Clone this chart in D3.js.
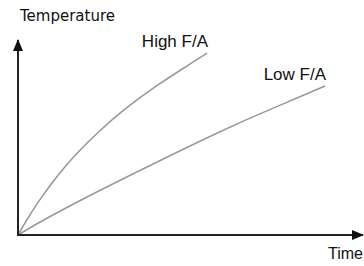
<!DOCTYPE html>
<html><head><meta charset="utf-8">
<script src="https://cdn.jsdelivr.net/npm/d3@7"></script>
<style>html,body{margin:0;padding:0;background:#fff;}</style>
</head><body>
<script>
// Data (arbitrary units: time 0-100, temperature 0-100)
const highTime = [0, 3.5, 7.2, 12.2, 17.1, 22.9, 30.4, 40.3, 49.9, 54.8];
const highTemp = [0, 10.8, 20.5, 32.3, 42.1, 52.3, 64.1, 76.9, 87.7, 93.3];
const lowTime = [0, 7.2, 23.8, 43.2, 62.3, 81.7, 89];
const lowTemp = [0, 7.7, 23.1, 40, 56.4, 70.8, 76.4];
const seriesLabels = ["High F/A", "Low F/A"];
const axisLabels = ["Temperature", "Time"];

const W = 364, H = 266;
const svg = d3.select("body").append("svg").attr("width", W).attr("height", H);
const x = d3.scaleLinear().domain([0, 100]).range([18, 363]);
const y = d3.scaleLinear().domain([0, 100]).range([235, 40]);

const defs = svg.append("defs");
defs.append("marker").attr("id","arr").attr("viewBox","0 0 12 10").attr("refX",11).attr("refY",5)
  .attr("markerWidth",6).attr("markerHeight",5).attr("orient","auto-start-reverse").attr("markerUnits","strokeWidth")
  .append("path").attr("d","M0,0L12,5L0,10z").attr("fill","#111");

const line = d3.line().x(d => x(d[0])).y(d => y(d[1])).curve(d3.curveBasis);
const hi = highTime.map((t,i)=>[t, highTemp[i]]);
const lo = lowTime.map((t,i)=>[t, lowTemp[i]]);
[hi, lo].forEach(s => svg.append("path").datum(s).attr("d", line)
  .attr("fill","none").attr("stroke","#999").attr("stroke-width",1.6));

// axes
svg.append("line").attr("x1", x(0)).attr("y1", y(0)+1).attr("x2", x(0)).attr("y2", y(100))
  .attr("stroke","#222").attr("stroke-width",2).attr("marker-end","url(#arr)");
svg.append("line").attr("x1", x(0)-1).attr("y1", y(0)).attr("x2", x(100)).attr("y2", y(0))
  .attr("stroke","#222").attr("stroke-width",2).attr("marker-end","url(#arr)");

svg.append("text").attr("x", 20).attr("y", 21).text(axisLabels[0])
  .attr("font-family","DejaVu Sans").attr("font-size",15).attr("fill","#111");
svg.append("text").attr("x", 363).attr("y", 259).attr("text-anchor","end").text(axisLabels[1])
  .attr("font-family","Liberation Sans").attr("font-size",16).attr("fill","#111");
svg.append("text").attr("x", 208).attr("y", 47).attr("text-anchor","end").text(seriesLabels[0])
  .attr("font-family","Liberation Sans").attr("font-size",17).attr("fill","#111");
svg.append("text").attr("x", 326).attr("y", 80).attr("text-anchor","end").text(seriesLabels[1])
  .attr("font-family","Liberation Sans").attr("font-size",17).attr("fill","#111");
</script>
</body></html>
